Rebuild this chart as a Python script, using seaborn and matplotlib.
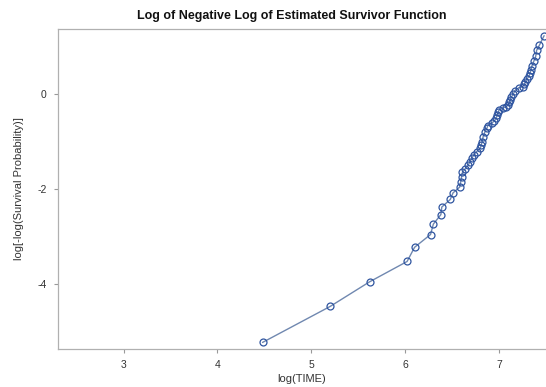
import numpy as np
import pandas as pd
import matplotlib
matplotlib.use('Agg')
import matplotlib.pyplot as plt
import seaborn as sns

# valores
log_time = [4.48, 5.20, 5.62, 6.02, 6.10, 6.27, 6.30, 6.38, 6.39, 6.48,
            6.51, 6.58, 6.59, 6.60, 6.61, 6.64, 6.67, 6.69, 6.71, 6.73,
            6.76, 6.80, 6.81, 6.82, 6.83, 6.83, 6.85, 6.87, 6.88, 6.92,
            6.95, 6.97, 6.98, 6.99, 7.00, 7.04, 7.07, 7.10, 7.11, 7.12,
            7.13, 7.15, 7.17, 7.17, 7.21, 7.25, 7.27, 7.28, 7.30, 7.32,
            7.33, 7.34, 7.35, 7.35, 7.37, 7.39, 7.40, 7.43, 7.48]
loglog_surv = [-5.24, -4.48, -3.96, -3.53, -3.23, -2.96, -2.74, -2.54, -2.38, -2.22,
               -2.08, -1.96, -1.86, -1.75, -1.65, -1.57, -1.50, -1.42, -1.35, -1.28,
               -1.21, -1.14, -1.07, -1.00, -0.93, -0.86, -0.79, -0.72, -0.66, -0.61,
               -0.56, -0.50, -0.44, -0.38, -0.33, -0.29, -0.26, -0.22, -0.17, -0.11,
               -0.06, 0.00, 0.05, 0.11, 0.14, 0.16, 0.21, 0.27, 0.33, 0.39,
               0.45, 0.51, 0.57, 0.63, 0.70, 0.80, 0.93, 1.04, 1.24]
x_ticks = [3, 4, 5, 6, 7]
y_ticks = [-4, -2, 0]

df = pd.DataFrame({'log(TIME)': log_time, 'loglog': loglog_surv})

sns.set_style('white')
plt.rcParams['font.family'] = ['Liberation Sans', 'DejaVu Sans']

fig = plt.figure(figsize=(5.46, 3.87), dpi=100)
ax = fig.add_axes([0.106, 0.098, 0.894, 0.827])

sns.lineplot(data=df, x='log(TIME)', y='loglog', sort=False, ax=ax,
             color='#7088b0', linewidth=1.0, marker='o', markersize=5.0,
             markerfacecolor='none', markeredgecolor='#2f55a0',
             markeredgewidth=0.9)

ax.set_xlim(2.30, 7.50)
ax.set_ylim(-5.38, 1.38)
ax.set_xticks(x_ticks)
ax.set_yticks(y_ticks)
ax.set_xticklabels([str(t) for t in x_ticks])
ax.set_yticklabels(['-4', '-2', '0'])
ax.tick_params(axis='both', which='both', direction='out', length=3,
               width=0.8, color='#999999', labelsize=7.5, labelcolor='#333333',
               pad=5, bottom=True, left=True)

for side in ['left', 'bottom', 'top']:
    ax.spines[side].set_color('#b0b0b0')
    ax.spines[side].set_linewidth(0.9)
ax.spines['right'].set_visible(False)

ax.set_xlabel('log(TIME)', fontsize=8, color='#333333', labelpad=3)
ax.set_ylabel('log[-log(Survival Probability)]', fontsize=8, color='#333333', labelpad=10)
ax.set_title('Log of Negative Log of Estimated Survivor Function',
             fontsize=9, fontweight='bold', color='#111111', pad=7, x=0.48)

fig.savefig('out.png', dpi=100)
